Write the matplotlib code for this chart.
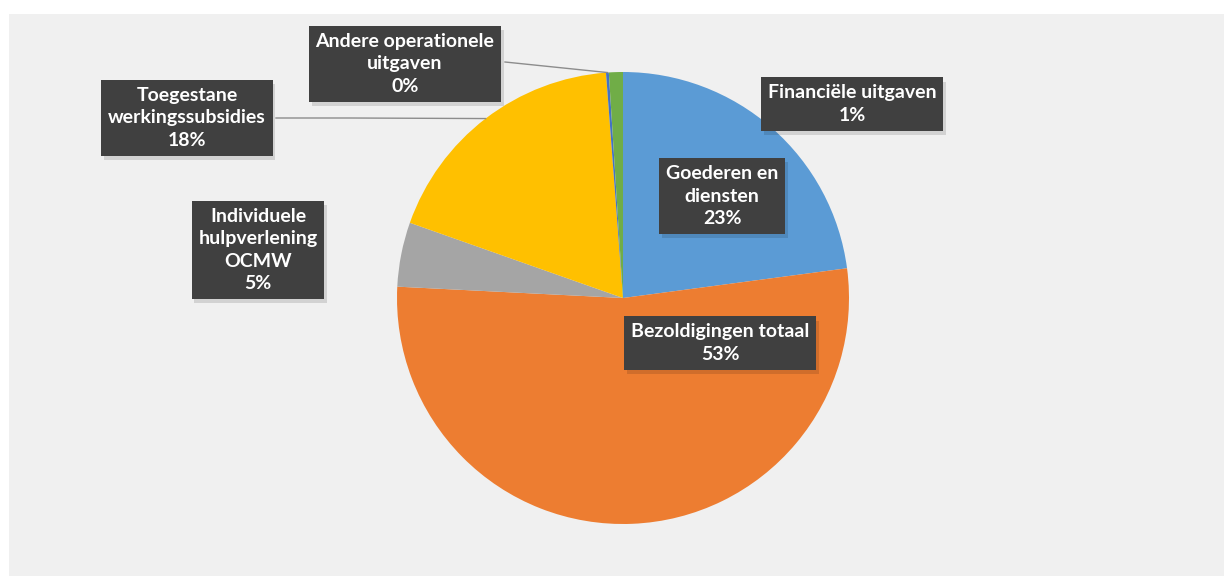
import numpy as np
import matplotlib.pyplot as plt
import matplotlib.patheffects as pe
from matplotlib.patches import Rectangle

# data (percent of total)
categories = ['Goederen en\ndiensten', 'Bezoldigingen totaal', 'Individuele\nhulpverlening\nOCMW',
              'Toegestane\nwerkingssubsidies', 'Andere operationele\nuitgaven', 'Financiële uitgaven']
values = [22.9, 52.9, 4.6, 18.4, 0.2, 1.0]
colors = ['#5b9bd5', '#ed7d31', '#a5a5a5', '#ffc000', '#4472c4', '#70ad47']

# label box centres in pixel coords (x, y from top)
label_pos = [(722, 196), (720, 343), (258, 250), (187, 118), (405, 64), (852, 104)]

W, H = 1224, 576
fig = plt.figure(figsize=(W / 100, H / 100), dpi=100)
fig.patch.set_facecolor('white')
ax = fig.add_axes([0, 0, 1, 1])
ax.set_xlim(0, W)
ax.set_ylim(0, H)
ax.set_aspect('equal')
ax.axis('off')

ax.add_patch(Rectangle((9, 0), W - 9, H - 14, facecolor='#f0f0f0', edgecolor='none', zorder=0))

cx, cy, r = 623, H - 298, 226
wedges, _ = ax.pie(values, colors=colors, startangle=90, counterclock=False,
                   center=(cx, cy), radius=r, frame=True,
                   wedgeprops=dict(linewidth=0.6, edgecolor='none'))
for w in wedges:
    w.set_zorder(2)
ax.set_xlim(0, W)
ax.set_ylim(0, H)
ax.axis('off')

total = sum(values)
for i, (lab, v) in enumerate(zip(categories, values)):
    x, y = label_pos[i]
    txt = f"{lab}\n{round(v / total * 100):.0f}%"
    t = ax.text(x, H - y, txt, ha='center', va='center', color='white',
                fontsize=14, fontweight='bold', family=['Lato', 'DejaVu Sans'],
                linespacing=1.4, zorder=5,
                bbox=dict(boxstyle='square,pad=0.35', facecolor='#404040', edgecolor='none'))
    t.get_bbox_patch().set_path_effects([
        pe.SimplePatchShadow(offset=(2, -3), shadow_rgbFace='#000000', alpha=0.12),
        pe.Normal()])

# leader lines for the two small/far labels
def edge_point(w):
    a = np.deg2rad((w.theta1 + w.theta2) / 2)
    return cx + r * np.cos(a), cy + r * np.sin(a)

px, py = edge_point(wedges[4])
ax.plot([505, px], [H - 62, py], color='#8c8c8c', lw=1, zorder=3)
px, py = edge_point(wedges[3])
ax.plot([276, 350, px], [H - 118, H - 118, py], color='#8c8c8c', lw=1, zorder=3)

fig.savefig('out.png', dpi=100)
